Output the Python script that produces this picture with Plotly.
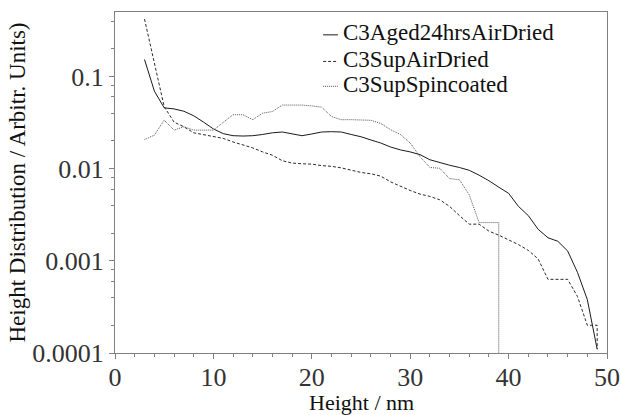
import plotly.graph_objects as go

# ---- data ----
height_nm = list(range(3, 50))

aged24hrs_air_dried = [
    0.153, 0.0695, 0.0457, 0.0445, 0.042, 0.0375, 0.032, 0.027, 0.024, 0.0228,
    0.0226, 0.0228, 0.0235, 0.0245, 0.025, 0.024, 0.0228, 0.0238, 0.025, 0.0252,
    0.025, 0.0235, 0.0222, 0.0205, 0.019, 0.0172, 0.016, 0.0152, 0.0142, 0.0125,
    0.0116, 0.0109, 0.0103, 0.0096, 0.0085, 0.0074, 0.0063, 0.0054, 0.0039, 0.0031,
    0.0022, 0.00178, 0.00163, 0.00128, 0.00075, 0.00038, 0.00011,
]

sup_air_dried_x = list(range(3, 50)) + [49]
sup_air_dried = [
    0.42, 0.14, 0.047, 0.032, 0.0285, 0.0245, 0.0235, 0.0225, 0.0213, 0.0195,
    0.018, 0.0168, 0.0152, 0.014, 0.0122, 0.0115, 0.0113, 0.0112, 0.0108, 0.0106,
    0.0102, 0.0096, 0.0091, 0.0088, 0.0083, 0.0072, 0.0064, 0.0058, 0.0053, 0.005,
    0.0046, 0.0039, 0.0031, 0.0025, 0.0025, 0.0021, 0.0019, 0.0017, 0.0015, 0.0013,
    0.00105, 0.00063, 0.00063, 0.00063, 0.00041, 0.0002, 0.0002, 0.00011,
]

sup_spincoated_x = list(range(3, 40)) + [39]
sup_spincoated = [
    0.0207, 0.0231, 0.0336, 0.0262, 0.0285, 0.0262, 0.0262, 0.0262, 0.0318, 0.0385,
    0.0385, 0.034, 0.040, 0.0417, 0.049, 0.049, 0.049, 0.048, 0.0465, 0.0368,
    0.034, 0.034, 0.0335, 0.0335, 0.031, 0.0265, 0.0235, 0.019, 0.0135, 0.0103,
    0.0101, 0.0078, 0.0076, 0.0052, 0.0026, 0.0026, 0.0026, 0.00001,
]

series_names = ["C3Aged24hrsAirDried", "C3SupAirDried", "C3SupSpincoated"]

x_major = [0, 10, 20, 30, 40, 50]
x_minor = list(range(2, 50, 2))
y_major = [0.0001, 0.001, 0.01, 0.1]
y_major_text = ["0.0001", "0.001", "0.01", "0.1"]
y_minor = [m * 10.0 ** e for e in range(-4, 0) for m in (2, 4, 6, 8)]

FONT = "Liberation Serif, Times New Roman, serif"
AXIS = "#808080"
colors = ["#1a1a1a", "#2a2a2a", "#555555"]
dashes = ["solid", "3px,2px", "1px,1px"]

fig = go.Figure()
traces_x = [height_nm, sup_air_dried_x, sup_spincoated_x]
traces_y = [aged24hrs_air_dried, sup_air_dried, sup_spincoated]
for xs, ys, nm, c, d in zip(traces_x, traces_y, series_names, colors, dashes):
    fig.add_trace(go.Scatter(x=xs, y=ys, mode="lines", name=nm, showlegend=False,
                             line=dict(color=c, width=1, dash=d)))

# hand-built legend (short line samples like the reference)
legend_rows_y = [0.933, 0.855, 0.782]
for nm, c, d, yy in zip(series_names, colors, dashes, legend_rows_y):
    fig.add_shape(type="line", xref="paper", yref="paper",
                  x0=0.423, x1=0.453, y0=yy, y1=yy,
                  line=dict(color=c, width=1, dash=d))
    fig.add_annotation(xref="paper", yref="paper", x=0.459, y=yy + 0.006,
                       xanchor="left", yanchor="middle", text=nm, showarrow=False,
                       font=dict(family=FONT, size=23, color="#111111"))

# x-axis title placed as text just below the tick labels
fig.add_annotation(xref="paper", yref="paper", x=0.5, y=-0.145,
                   xanchor="center", yanchor="middle", text="Height / nm",
                   showarrow=False, borderpad=0,
                   font=dict(family=FONT, size=22, color="#111111"))

fig.update_layout(
    template="none",
    width=621, height=415,
    margin=dict(l=115, r=14, t=12, b=62, pad=0),
    paper_bgcolor="white", plot_bgcolor="white",
    font=dict(family=FONT, size=23, color="#222222"),
    showlegend=False,
)

fig.update_xaxes(
    range=[0, 50], showgrid=False, zeroline=False, automargin=False,
    showline=True, linecolor=AXIS, linewidth=1, mirror=True,
    ticks="outside", ticklen=5, tickcolor=AXIS, tickwidth=1,
    ticklabelstandoff=-4,
    tickmode="array", tickvals=x_major,
    tickfont=dict(family=FONT, size=26, color="#333333"),
    minor=dict(tickmode="array", tickvals=x_minor, ticks="outside",
               ticklen=3, tickcolor=AXIS, tickwidth=1, showgrid=False),
)

fig.update_yaxes(
    type="log", range=[-4, -0.3], showgrid=False, zeroline=False, automargin=False,
    showline=True, linecolor=AXIS, linewidth=1, mirror=True,
    ticks="outside", ticklen=5, tickcolor=AXIS, tickwidth=1,
    tickmode="array", tickvals=y_major, ticktext=y_major_text,
    tickfont=dict(family=FONT, size=26, color="#333333"),
    minor=dict(tickmode="array", tickvals=y_minor, ticks="outside",
               ticklen=3, tickcolor=AXIS, tickwidth=1, showgrid=False),
    title=dict(text="Height Distribution / Arbitr. Units)",
               font=dict(family=FONT, size=23, color="#111111"), standoff=0),
)

fig.write_html(
    "out.html",
    config={"displayModeBar": False},
    post_script="document.body.style.margin='0';document.body.style.overflow='hidden';",
)
